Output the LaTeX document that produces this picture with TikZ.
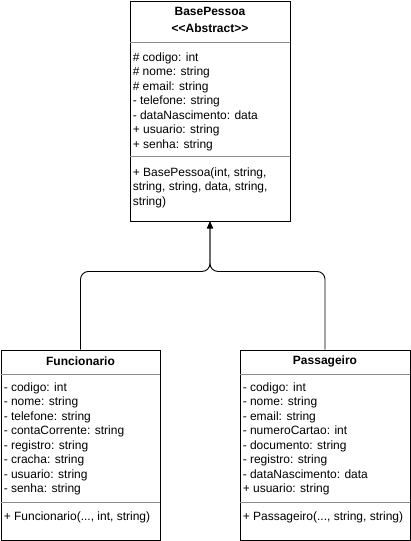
\documentclass[tikz,border=0pt]{standalone}
\usepackage{fontspec}
\setmainfont{Liberation Sans}
\usetikzlibrary{arrows.meta,positioning,calc}

\begin{document}
\begin{tikzpicture}[x=1pt,y=-1pt,
  classbox/.style={draw,line width=0.9pt,inner sep=0pt},
  title/.style={font=\bfseries\fontsize{12}{17}\selectfont,align=center,inner sep=0pt},
  members/.style={font=\fontsize{12}{14.5}\selectfont,align=left,anchor=north west,inner sep=0pt},
  sep/.style={draw=black!45,line width=0.8pt},
  arr/.style={-{Triangle[length=7pt,width=6pt]},line width=0.9pt,rounded corners=8pt}]
\useasboundingbox (0,0) rectangle (411,541);
% classes
\node[classbox,minimum width=160pt,minimum height=220pt] (base) at (210,111) {};
\node[classbox,minimum width=159pt,minimum height=190pt] (func) at (80.5,445) {};
\node[classbox,minimum width=170pt,minimum height=190pt] (pass) at (325,445) {};
% BasePessoa
\node[title] (basetitle) at ($(base.north)+(0,19.5)$) {BasePessoa\\{<}{<}Abstract{>}{>}};
\draw[sep] ($(base.north west)+(0,42)$) -- ($(base.north east)+(0,42)$);
\node[members] (baseattr) at ($(base.north west)+(3,52)$) {\# codigo: int\\\# nome: string\\\# email: string\\- telefone: string\\- dataNascimento: data\\+ usuario: string\\+ senha: string};
\draw[sep] ($(base.north west)+(0,156)$) -- ($(base.north east)+(0,156)$);
\node[members] (basemeth) at ($(base.north west)+(3,167)$) {+ BasePessoa(int, string,\\string, string, data, string,\\string)};
% Funcionario
\node[title] (functitle) at ($(func.north)+(0,12)$) {Funcionario};
\draw[sep] ($(func.north west)+(0,25)$) -- ($(func.north east)+(0,25)$);
\node[members] (funcattr) at ($(func.north west)+(3,33)$) {- codigo: int\\- nome: string\\- telefone: string\\- contaCorrente: string\\- registro: string\\- cracha: string\\- usuario: string\\- senha: string};
\draw[sep] ($(func.north west)+(0,153)$) -- ($(func.north east)+(0,153)$);
\node[members] (funcmeth) at ($(func.north west)+(3,162)$) {+ Funcionario(..., int, string)};
% Passageiro
\node[title] (passtitle) at ($(pass.north)+(0,12)$) {Passageiro};
\draw[sep] ($(pass.north west)+(0,25)$) -- ($(pass.north east)+(0,25)$);
\node[members] (passattr) at ($(pass.north west)+(3,33)$) {- codigo: int\\- nome: string\\- email: string\\- numeroCartao: int\\- documento: string\\- registro: string\\- dataNascimento: data\\+ usuario: string};
\draw[sep] ($(pass.north west)+(0,153)$) -- ($(pass.north east)+(0,153)$);
\node[members] (passmeth) at ($(pass.north west)+(3,162)$) {+ Passageiro(..., string, string)};
% inheritance
\coordinate (join) at ($(base.south)+(0,50)$);
\draw[arr] (func.north) |- (join) -- (base.south);
\draw[arr] (pass.north) |- (join) -- (base.south);
\end{tikzpicture}
\end{document}
